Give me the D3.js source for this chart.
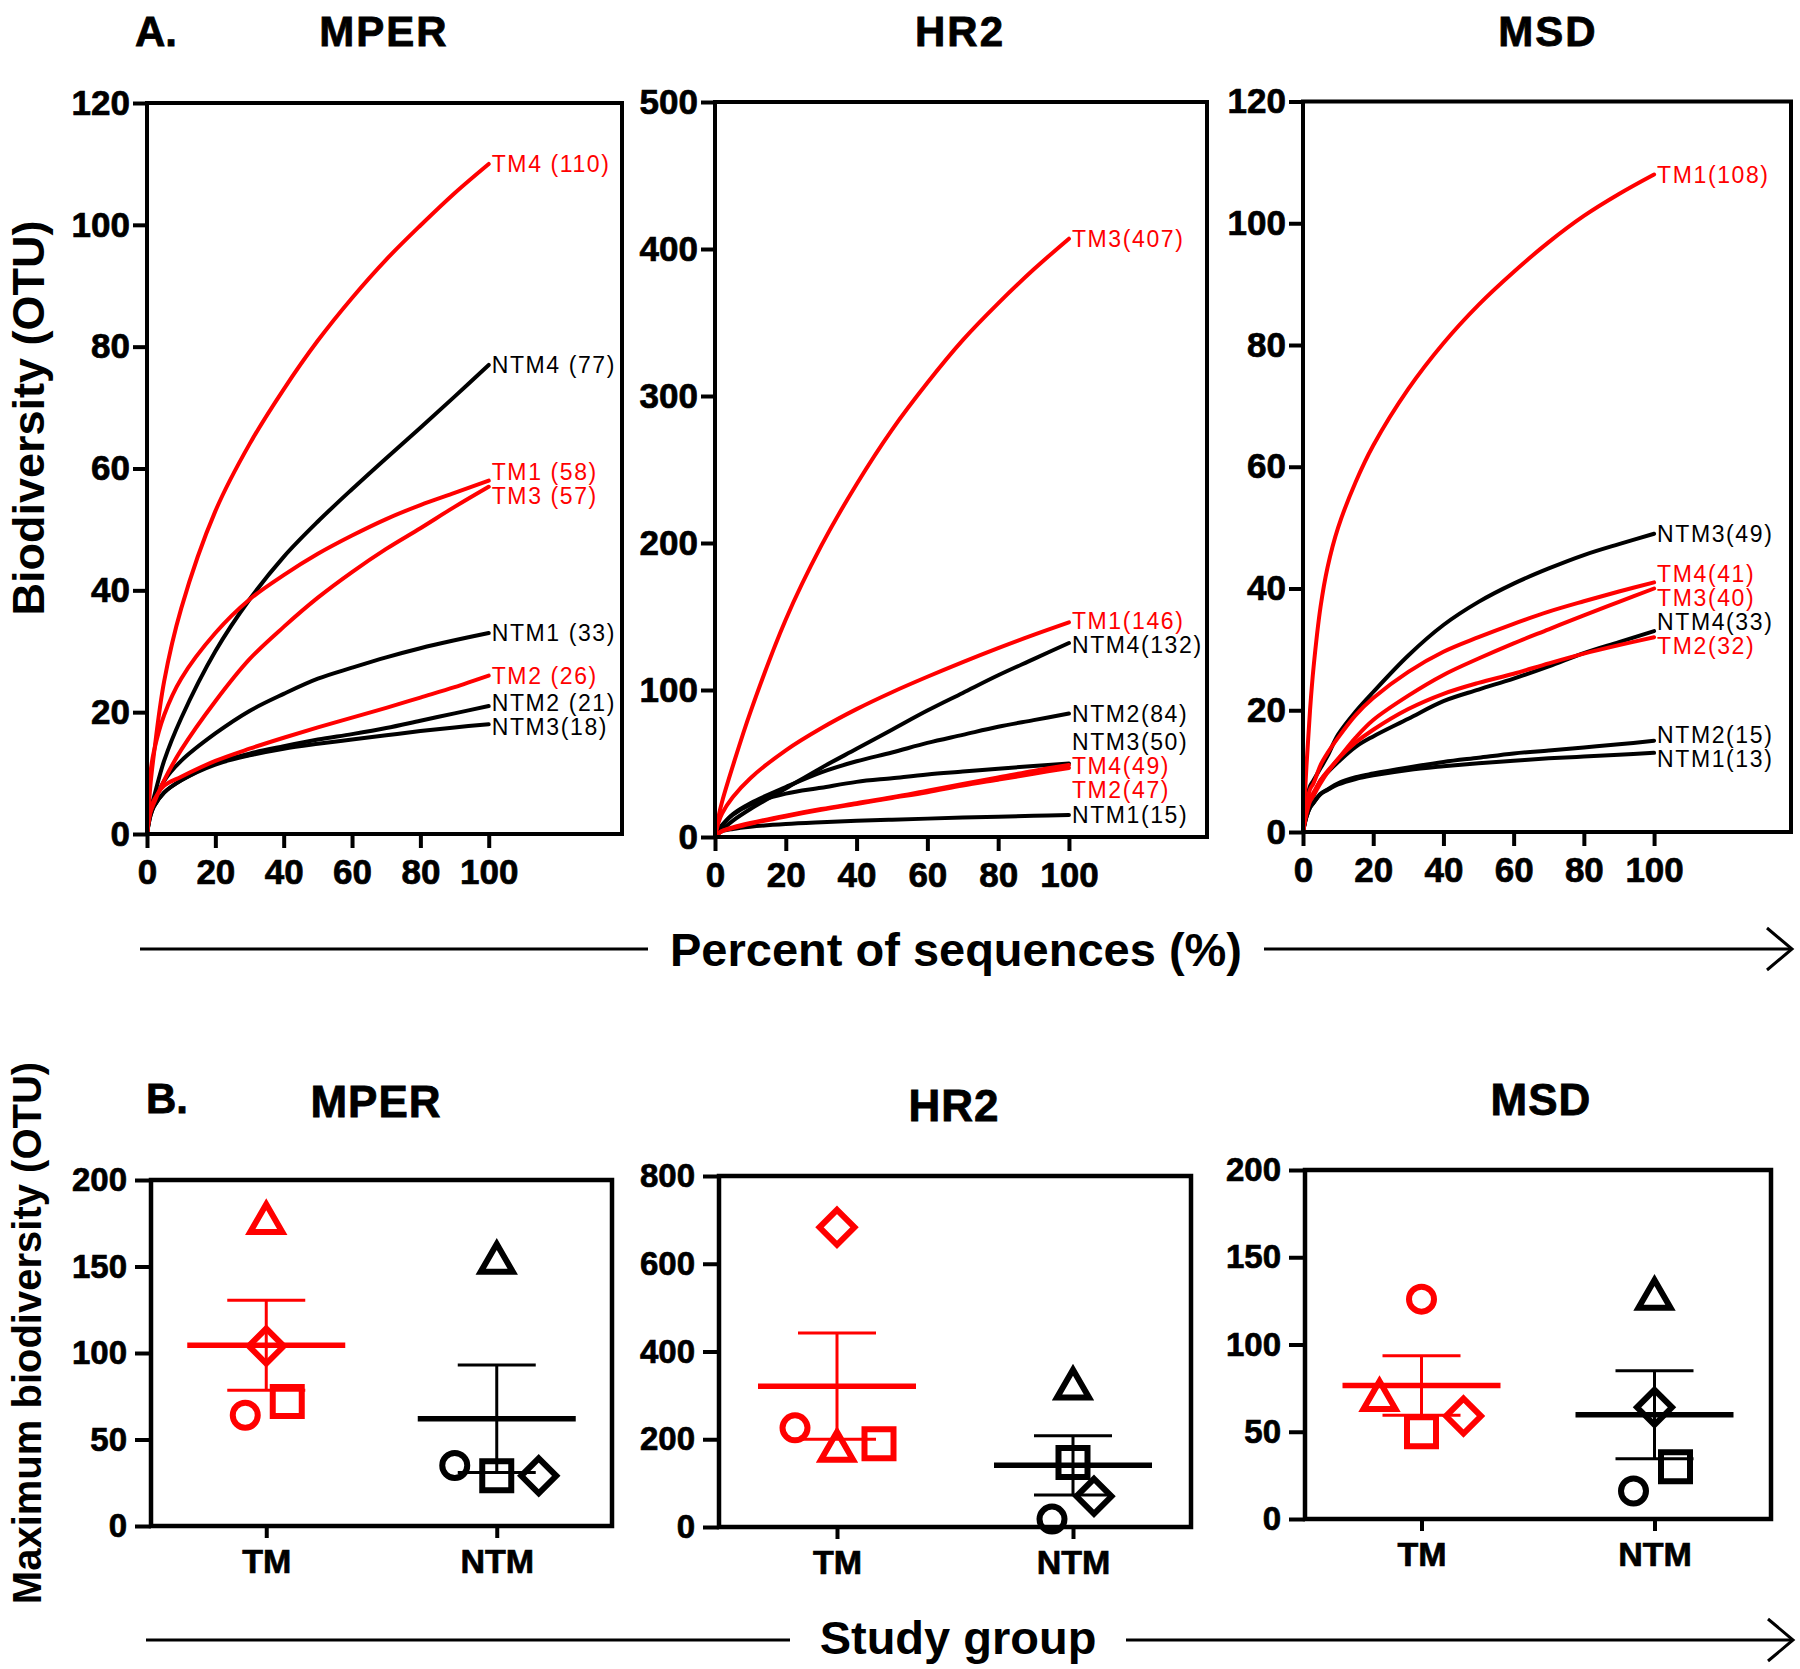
<!DOCTYPE html>
<html><head><meta charset="utf-8">
<script src="https://cdn.jsdelivr.net/npm/d3@7"></script>
<style>
body{margin:0;background:#fff;}
svg{display:block;font-family:"Liberation Sans",Arial,Helvetica,sans-serif;}
</style></head><body>
<svg id="chart" width="1800" height="1669"></svg>
<script>
// ---------------- DATA ----------------
// Panel A: rarefaction curves (x = percent of sequences, y = OTU)
const seqPct = [0, 1, 2, 5, 10, 20, 30, 40, 50, 60, 70, 80, 90, 100];
const seqPctMSD = [0, 1, 2, 3, 5, 7, 10, 15, 20, 30, 40, 50, 60, 70, 80, 90, 100];

const mperCurves = [
  {name: "NTM4", label: "NTM4 (77)", values: [0, 4, 6, 12, 19, 30, 38.5, 45.5, 51.3, 56.6, 61.7, 66.7, 71.8, 77]},
  {name: "NTM1", label: "NTM1 (33)", values: [0, 3.5, 5, 8.7, 12, 16.5, 20.2, 23, 25.5, 27.3, 29, 30.5, 31.8, 33]},
  {name: "NTM2", label: "NTM2 (21)", values: [0, 3, 4.5, 6.8, 8.8, 11.6, 13.2, 14.4, 15.5, 16.4, 17.4, 18.6, 19.8, 21]},
  {name: "NTM3", label: "NTM3(18)", values: [0, 3, 4.5, 6.8, 8.8, 11.4, 12.9, 14, 14.8, 15.5, 16.2, 16.9, 17.5, 18]},
  {name: "TM4", label: "TM4 (110)", values: [0, 8, 13, 25, 37, 53, 64, 73, 81, 88, 94.3, 99.9, 105.2, 110]},
  {name: "TM1", label: "TM1 (58)", values: [0, 10, 13.5, 19.5, 25.5, 33, 38.5, 42.5, 46, 49, 51.7, 54, 56, 58]},
  {name: "TM3", label: "TM3 (57)", values: [0, 3.5, 5, 8.8, 13.8, 21.8, 28.7, 34, 38.8, 43, 46.8, 50.2, 53.7, 57]},
  {name: "TM2", label: "TM2 (26)", values: [0, 4, 5.5, 7.9, 9.4, 12, 14, 15.8, 17.5, 19.1, 20.7, 22.4, 24.1, 26]}
];

const hr2Curves = [
  {name: "NTM4", label: "NTM4(132)", values: [0, 3, 5, 11, 19, 33, 47, 60, 73, 86, 98, 110, 121, 132]},
  {name: "NTM2", label: "NTM2(84)", values: [0, 5, 8, 15.5, 23, 34, 44, 51.5, 57.5, 64, 69.5, 75, 79.5, 84]},
  {name: "NTM3", label: "NTM3(50)", values: [0, 5, 8, 15, 22, 29.5, 33.5, 37.5, 40, 42.5, 44.5, 46.5, 48.3, 50]},
  {name: "NTM1", label: "NTM1(15)", values: [0, 2.5, 4, 5.5, 7, 8.8, 10, 11, 11.8, 12.5, 13.2, 13.8, 14.4, 15]},
  {name: "TM3", label: "TM3(407)", values: [0, 14, 24, 48, 85, 148, 198, 240, 277, 309, 338, 363, 386, 407]},
  {name: "TM1", label: "TM1(146)", values: [0, 10, 16, 27, 40, 59, 74, 87, 98.5, 109, 119, 128.5, 137.5, 146]},
  {name: "TM4", label: "TM4(49)", values: [0, 2.5, 4, 6.5, 9.5, 14.5, 19, 23, 27, 31.5, 36, 40.5, 45, 49]},
  {name: "TM2", label: "TM2(47)", values: [0, 2.5, 4, 6, 9, 14, 18.5, 22.5, 26.5, 30.5, 35, 39, 43, 47]}
];

const msdCurves = [
  {name: "NTM3", label: "NTM3(49)", values: [0, 5, 7.5, 8.5, 10.5, 12.5, 16, 19.8, 23, 29, 34, 37.8, 40.8, 43.3, 45.5, 47.3, 49]},
  {name: "NTM4", label: "NTM4(33)", values: [0, 3, 5, 6, 8.5, 9.8, 11.5, 14, 15.7, 18.6, 21.5, 23.4, 25.2, 27.2, 29.4, 31.2, 33]},
  {name: "NTM2", label: "NTM2(15)", values: [0, 2.5, 4, 4.8, 6.3, 7, 8, 9, 9.6, 10.6, 11.5, 12.2, 12.9, 13.4, 13.9, 14.4, 15]},
  {name: "NTM1", label: "NTM1(13)", values: [0, 2.5, 4, 4.8, 6.2, 6.9, 7.8, 8.7, 9.3, 10.2, 10.8, 11.3, 11.7, 12.1, 12.4, 12.7, 13]},
  {name: "TM1", label: "TM1(108)", values: [0, 11, 20, 27, 37, 43.5, 50, 57.5, 63.5, 72.8, 80.3, 86.6, 92, 96.9, 101.2, 104.8, 108]},
  {name: "TM4", label: "TM4(41)", values: [0, 4.5, 7, 8, 11, 13, 15.5, 19.2, 22, 26.3, 29.6, 32, 34.2, 36.2, 37.9, 39.5, 41]},
  {name: "TM3", label: "TM3(40)", values: [0, 3.5, 5.5, 6.5, 8.5, 10, 12, 15.5, 18.4, 22.4, 25.8, 28.5, 31, 33.3, 35.6, 37.8, 40]},
  {name: "TM2", label: "TM2(32)", values: [0, 3, 5, 6, 8, 9.8, 12, 14.7, 16.8, 20.2, 22.7, 24.5, 26, 27.7, 29.3, 30.7, 32]}
];

const pctTicks = [0, 20, 40, 60, 80, 100];
const otuTicks120 = [0, 20, 40, 60, 80, 100, 120];
const otuTicks500 = [0, 100, 200, 300, 400, 500];

// Panel B: maximum biodiversity per subject (order: circle, triangle, square, diamond)
const studyGroups = ["TM", "NTM"];
const subjectSymbols = ["circle", "triangle", "square", "diamond"];
const mperMaxTM  = [64, 178, 72, 104];
const mperMaxNTM = [35, 155, 29, 29];
const hr2MaxTM   = [226, 185, 190, 683];
const hr2MaxNTM  = [18, 327, 147, 70];
const msdMaxTM   = [126, 71, 50, 59];
const msdMaxNTM  = [16, 129, 30, 64];
const maxTicks200 = [0, 50, 100, 150, 200];
const maxTicks800 = [0, 200, 400, 600, 800];

// ---------------- DRAWING ----------------
const RED = "#ff0000", BLACK = "#000";
const svg = d3.select("#chart");
svg.append("rect").attr("width", 1800).attr("height", 1669).attr("fill", "#fff");

function styleAxis(g, fs) {
  g.select(".domain").remove();
  g.selectAll(".tick line").attr("stroke", BLACK).attr("stroke-width", 4);
  g.selectAll(".tick text").attr("fill", BLACK).attr("font-size", fs).attr("font-weight", "bold")
    .attr("stroke", BLACK).attr("stroke-width", 0.7)
    .attr("font-family", '"Liberation Sans",Arial,sans-serif');
}

function drawRare(cfg) {
  const x = d3.scaleLinear().domain([0, 139]).range([cfg.x0, cfg.x1]);
  const y = d3.scaleLinear().domain([0, cfg.ymax]).range([cfg.yBot, cfg.yTop]);
  const g = svg.append("g");

  const line = d3.line().x((d, i) => x(cfg.xs[i])).y(d => y(d)).curve(d3.curveCatmullRom.alpha(0.5));
  const isTM = c => c.name.startsWith("TM");
  const ordered = cfg.curves.filter(c => !isTM(c)).concat(cfg.curves.filter(isTM));
  g.selectAll("path.curve").data(ordered).join("path")
    .attr("class", "curve")
    .attr("d", d => line(d.values))
    .attr("fill", "none")
    .attr("stroke", d => isTM(d) ? RED : BLACK)
    .attr("stroke-width", 4)
    .attr("stroke-linecap", "round")
    .attr("stroke-linejoin", "round");

  // frame
  g.append("rect").attr("x", cfg.x0).attr("y", cfg.yTop)
    .attr("width", cfg.x1 - cfg.x0).attr("height", cfg.yBot - cfg.yTop)
    .attr("fill", "none").attr("stroke", BLACK).attr("stroke-width", 4);

  const ya = g.append("g").attr("transform", `translate(${cfg.x0},0)`)
    .call(d3.axisLeft(y).tickValues(cfg.yticks).tickSize(14).tickPadding(3));
  styleAxis(ya, 35);
  const xa = g.append("g").attr("transform", `translate(0,${cfg.yBot})`)
    .call(d3.axisBottom(x).tickValues(pctTicks).tickSize(14).tickPadding(11));
  styleAxis(xa, 35);

  // end labels with simple repulsion
  const last = cfg.xs[cfg.xs.length - 1];
  const items = cfg.curves.map(c => ({c, y: y(c.values[c.values.length - 1])}));
  items.sort((a, b) => a.y - b.y);
  const G = 24;
  for (let it = 0; it < 300; it++) {
    for (let i = 1; i < items.length; i++) {
      const gap = items[i].y - items[i - 1].y;
      if (gap < G) { const d = (G - gap) / 2; items[i - 1].y -= d; items[i].y += d; }
    }
  }
  g.selectAll("text.lbl").data(items).join("text")
    .attr("class", "lbl")
    .attr("x", x(last) + 3)
    .attr("y", d => d.y)
    .attr("dy", "0.36em")
    .attr("font-size", 23)
    .attr("letter-spacing", 1.6)
    .attr("fill", d => isTM(d.c) ? RED : BLACK)
    .text(d => d.c.label);

  svg.append("text").attr("x", cfg.titleX).attr("y", 46).attr("text-anchor", "middle")
    .attr("font-size", 42).attr("font-weight", "bold").attr("letter-spacing", 2)
    .attr("stroke", BLACK).attr("stroke-width", 0.8).text(cfg.title);
}

function symbolPath(type) {
  if (type === "circle") { const r = 12.5; return `M${r},0A${r},${r} 0 1,1 ${-r},0A${r},${r} 0 1,1 ${r},0Z`; }
  if (type === "square") { const s = 14.5; return `M${-s},${-s}H${s}V${s}H${-s}Z`; }
  if (type === "triangle") { const s = 32, h = s * 0.866; return `M0,${-h / 2}L${s / 2},${h / 2}L${-s / 2},${h / 2}Z`; }
  const d = 17.5; return `M0,${-d}L${d},0L0,${d}L${-d},0Z`;
}

function drawScatter(cfg) {
  const x = d3.scalePoint().domain(studyGroups).range([cfg.x0, cfg.x1]).padding(0.5);
  const y = d3.scaleLinear().domain([0, cfg.ymax]).range([cfg.yBot, cfg.yTop]);
  const g = svg.append("g");

  g.append("rect").attr("x", cfg.x0).attr("y", cfg.yTop)
    .attr("width", cfg.x1 - cfg.x0).attr("height", cfg.yBot - cfg.yTop)
    .attr("fill", "none").attr("stroke", BLACK).attr("stroke-width", 4.5);
  const ya = g.append("g").attr("transform", `translate(${cfg.x0},0)`)
    .call(d3.axisLeft(y).tickValues(cfg.yticks).tickSize(16).tickPadding(8));
  styleAxis(ya, 33);
  const xa = g.append("g").attr("transform", `translate(0,${cfg.yBot})`)
    .call(d3.axisBottom(x).tickSize(12).tickPadding(11));
  styleAxis(xa, 34);

  const series = [{grp: "TM", vals: cfg.tm, color: RED}, {grp: "NTM", vals: cfg.ntm, color: BLACK}];
  series.forEach(s => {
    const cx = x(s.grp);
    // cluster points that overlap vertically, spread them horizontally
    const pts = s.vals.map((v, i) => ({v, i, sym: subjectSymbols[i], py: y(v), dx: 0}));
    const sorted = pts.slice().sort((a, b) => a.py - b.py);
    const clusters = [];
    sorted.forEach(p => {
      const cl = clusters[clusters.length - 1];
      if (cl && p.py - cl[cl.length - 1].py < 30) cl.push(p); else clusters.push([p]);
    });
    clusters.forEach(cl => {
      cl.sort((a, b) => a.i - b.i);
      cl.forEach((p, k) => { p.dx = (k - (cl.length - 1) / 2) * 42; });
    });
    g.selectAll(null).data(pts).join("path")
      .attr("d", p => symbolPath(p.sym))
      .attr("transform", p => `translate(${cx + p.dx},${p.py})`)
      .attr("fill", "none").attr("stroke", s.color).attr("stroke-width", 6);

    const m = d3.mean(s.vals), sem = d3.deviation(s.vals) / Math.sqrt(s.vals.length);
    g.append("line").attr("x1", cx - 79).attr("x2", cx + 79).attr("y1", y(m)).attr("y2", y(m))
      .attr("stroke", s.color).attr("stroke-width", 5.5);
    g.append("line").attr("x1", cx).attr("x2", cx).attr("y1", y(m - sem)).attr("y2", y(m + sem))
      .attr("stroke", s.color).attr("stroke-width", 3);
    [m - sem, m + sem].forEach(v => {
      g.append("line").attr("x1", cx - 39).attr("x2", cx + 39).attr("y1", y(v)).attr("y2", y(v))
        .attr("stroke", s.color).attr("stroke-width", 3);
    });
  });

  svg.append("text").attr("x", cfg.titleX).attr("y", cfg.titleY).attr("text-anchor", "middle")
    .attr("font-size", 44).attr("font-weight", "bold").attr("letter-spacing", 1)
    .attr("stroke", BLACK).attr("stroke-width", 0.8).text(cfg.title);
}

// Panel A
drawRare({x0: 147, x1: 622, yTop: 103, yBot: 834, ymax: 120, yticks: otuTicks120, xs: seqPct, curves: mperCurves, title: "MPER", titleX: 384});
drawRare({x0: 715, x1: 1207, yTop: 102, yBot: 837, ymax: 500, yticks: otuTicks500, xs: seqPct, curves: hr2Curves, title: "HR2", titleX: 960});
drawRare({x0: 1303, x1: 1791, yTop: 101.5, yBot: 832, ymax: 120, yticks: otuTicks120, xs: seqPctMSD, curves: msdCurves, title: "MSD", titleX: 1548});

svg.append("text").attr("x", 135).attr("y", 46).attr("font-size", 42).attr("font-weight", "bold")
  .attr("stroke", BLACK).attr("stroke-width", 0.8).text("A.");
svg.append("text").attr("transform", "translate(44,418) rotate(-90)").attr("text-anchor", "middle")
  .attr("font-size", 45).attr("font-weight", "bold").text("Biodiversity (OTU)");

// Panel B
drawScatter({x0: 151, x1: 612, yTop: 1180, yBot: 1526, ymax: 200, yticks: maxTicks200, tm: mperMaxTM, ntm: mperMaxNTM, title: "MPER", titleX: 376, titleY: 1117});
drawScatter({x0: 719, x1: 1191, yTop: 1176, yBot: 1527, ymax: 800, yticks: maxTicks800, tm: hr2MaxTM, ntm: hr2MaxNTM, title: "HR2", titleX: 954, titleY: 1121});
drawScatter({x0: 1305, x1: 1771, yTop: 1170, yBot: 1519, ymax: 200, yticks: maxTicks200, tm: msdMaxTM, ntm: msdMaxNTM, title: "MSD", titleX: 1541, titleY: 1115});

svg.append("text").attr("x", 146).attr("y", 1113).attr("font-size", 42).attr("font-weight", "bold")
  .attr("stroke", BLACK).attr("stroke-width", 0.8).text("B.");
svg.append("text").attr("transform", "translate(41,1333) rotate(-90)").attr("text-anchor", "middle")
  .attr("font-size", 40).attr("font-weight", "bold").text("Maximum biodiversity (OTU)");

// Axis-title arrows
function arrowTitle(yLine, yText, xl0, xl1, xr0, xr1, text) {
  const g = svg.append("g").attr("stroke", BLACK).attr("stroke-width", 3).attr("fill", "none");
  g.append("line").attr("x1", xl0).attr("x2", xl1).attr("y1", yLine).attr("y2", yLine);
  g.append("line").attr("x1", xr0).attr("x2", xr1).attr("y1", yLine).attr("y2", yLine);
  g.append("polyline").attr("points", `${xr1 - 25},${yLine - 21} ${xr1},${yLine} ${xr1 - 25},${yLine + 21}`);
  svg.append("text").attr("x", (xl1 + xr0) / 2).attr("y", yText).attr("text-anchor", "middle")
    .attr("font-size", 47).attr("font-weight", "bold").text(text);
}
arrowTitle(949, 966, 140, 648, 1264, 1792, "Percent of sequences (%)");
arrowTitle(1640, 1654, 146, 790, 1126, 1793, "Study group");
</script>
</body></html>
